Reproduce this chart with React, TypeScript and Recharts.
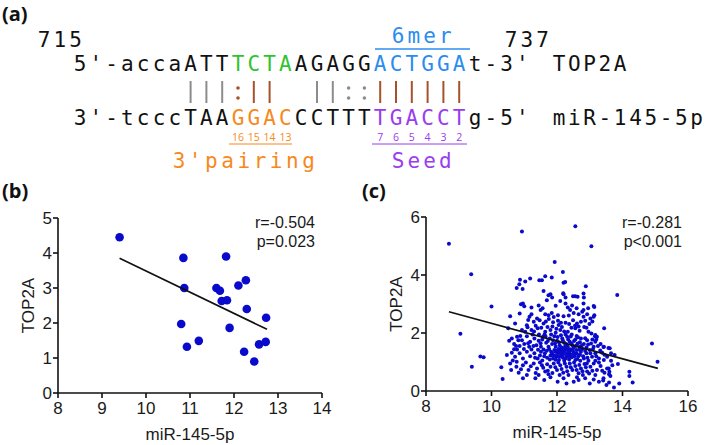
import { Scatter, ScatterChart, XAxis, YAxis } from "recharts";

const SANS = '"Liberation Sans", Arial, sans-serif';
const MONO = '"DejaVu Sans Mono", monospace';
const DOT = "#0a0acc";

// panel (a) sequences
const TOP_SEQ = "5'-accaATTTCTAAGAGGACTGGAt-3'";
const BOT_SEQ = "3'-tcccTAAGGACCCTTTTGACCTg-5'";
const TOP_COLORS: Record<number, string> = {};
const BOT_COLORS: Record<number, string> = {};
[10, 11, 12, 13].forEach((i) => (TOP_COLORS[i] = "#2fc42f"));
[19, 20, 21, 22, 23, 24].forEach((i) => (TOP_COLORS[i] = "#2b8cf0"));
[10, 11, 12, 13].forEach((i) => (BOT_COLORS[i] = "#f7891c"));
[19, 20, 21, 22, 23, 24].forEach((i) => (BOT_COLORS[i] = "#9a3cf0"));

// [position, kind, colour]
const BONDS: [number, string, string][] = [
  [7, "|", "#8c8c8c"],
  [8, "|", "#8c8c8c"],
  [9, "|", "#8c8c8c"],
  [10, ":", "#a5522a"],
  [11, "|", "#a5522a"],
  [12, "|", "#a5522a"],
  [15, "|", "#8c8c8c"],
  [16, "|", "#8c8c8c"],
  [17, ":", "#8c8c8c"],
  [18, ":", "#8c8c8c"],
  [19, "|", "#a5522a"],
  [20, "|", "#a5522a"],
  [21, "|", "#a5522a"],
  [22, "|", "#a5522a"],
  [23, "|", "#a5522a"],
  [24, "|", "#a5522a"],
];
const PAIRING_NUMS = ["16", "15", "14", "13"];
const SEED_NUMS = ["7", "6", "5", "4", "3", "2"];

// panel (b)
const B_MIR = [9.4, 10.85, 10.87, 10.8, 10.93, 11.2, 11.82, 11.6, 11.68, 11.72, 11.84, 11.9, 12.1, 12.27, 12.29, 12.23, 12.46, 12.57, 12.72, 12.73];
const B_TOP2A = [4.45, 3.86, 3.0, 1.97, 1.32, 1.49, 3.9, 3.0, 2.92, 2.63, 2.65, 1.86, 3.07, 3.22, 2.4, 1.18, 0.9, 1.39, 1.46, 2.15];
const B_FIT_X = [9.4, 12.75];
const B_FIT_Y = [3.85, 1.82];
const B_XTICKS = [8, 9, 10, 11, 12, 13, 14];
const B_YTICKS = [0, 1, 2, 3, 4, 5];

// panel (c)
const C_POINTS: [number, number][] = [
  [8.7, 5.08], [10.93, 5.5], [12.56, 5.68], [13.05, 4.99], [9.38, 4.03], [10.0, 2.91], [9.05, 1.97], [9.66, 1.19],
  [9.76, 1.16], [9.4, 0.84], [10.3, 0.82], [10.34, 0.41], [13.84, 3.31], [14.9, 1.64], [15.07, 1.01], [14.21, 0.66],
  [14.21, 0.52], [14.31, 0.29], [13.9, 0.26], [13.74, 0.12], [11.93, 4.45], [12.18, 4.1], [12.88, 3.61], [13.44, 2.16],
  [13.12, 2.93],
  [10.77, 3.55], [10.87, 3.84], [10.95, 3.52], [10.85, 3.68], [11.03, 3.78], [11.18, 3.88], [11.46, 3.82], [11.54, 3.82],
  [11.64, 3.96], [11.84, 3.91], [11.59, 3.45], [11.74, 3.3], [11.8, 3.34], [11.85, 3.22], [11.69, 3.13], [12.2, 3.34],
  [12.26, 3.22], [12.63, 3.25], [12.49, 3.27], [12.82, 3.22], [12.2, 3.73], [12.25, 3.76], [12.81, 3.36], [12.56, 3.27],
  [12.19, 3.37],
  [10.96, 3.02], [11.0, 2.92], [11.22, 2.88], [11.44, 2.95], [11.5, 2.79], [11.64, 2.65], [11.74, 2.61], [11.84, 2.69],
  [11.96, 2.94], [12.1, 3.1], [12.26, 3.02], [12.33, 2.88], [12.46, 2.95], [12.51, 2.69], [12.66, 2.65], [12.77, 2.73],
  [12.92, 2.65], [13.14, 2.9], [13.02, 2.5], [10.86, 2.67], [11.16, 2.56], [11.39, 2.5], [12.03, 2.61], [12.2, 2.58],
  [12.4, 2.79], [12.81, 2.56], [13.14, 2.61], [10.57, 2.58], [12.81, 3.02], [12.81, 2.79], [13.12, 2.56], [10.9, 2.99],
  [10.72, 2.33], [11.08, 2.27], [11.29, 2.39], [11.47, 2.44], [11.59, 2.33], [11.71, 2.21], [11.88, 2.37], [12.03, 2.42],
  [12.15, 2.21], [12.26, 2.35], [12.37, 2.31], [12.49, 2.44], [12.61, 2.33], [12.73, 2.39], [12.86, 2.42], [12.99, 2.31],
  [13.16, 1.89], [13.22, 1.87], [10.93, 2.1], [11.03, 2.04], [11.22, 2.1], [11.41, 2.16], [11.64, 2.04], [11.8, 2.1],
  [11.96, 2.01], [12.1, 2.1], [12.33, 2.04], [12.56, 2.16], [12.69, 2.08], [12.83, 2.21], [12.96, 2.04], [10.51, 2.16],
  [13.05, 1.98], [13.17, 1.93], [11.12, 2.45], [11.75, 2.48], [12.55, 2.25], [11.35, 2.25], [12.05, 2.28],
  [10.62, 1.81], [10.78, 1.87], [10.93, 1.75], [11.08, 1.89], [11.18, 1.7], [11.31, 1.81], [11.44, 1.73], [11.57, 1.87],
  [11.67, 1.66], [11.78, 1.81], [11.85, 1.62], [11.92, 1.89], [12.0, 1.73], [12.08, 1.58], [12.16, 1.81], [12.22, 1.66],
  [12.31, 1.87], [12.39, 1.7], [12.47, 1.58], [12.56, 1.78], [12.63, 1.64], [12.73, 1.81], [12.82, 1.62], [12.92, 1.75],
  [13.04, 1.64], [13.17, 1.7], [13.33, 1.62], [13.61, 1.47], [10.54, 1.73], [10.69, 1.62], [10.86, 1.55], [11.0, 1.62],
  [11.15, 1.53], [11.37, 1.58], [11.51, 1.53], [11.74, 1.53], [11.96, 1.53], [12.14, 1.5], [12.33, 1.53], [12.51, 1.5],
  [12.69, 1.53], [12.9, 1.5], [13.12, 1.53], [13.43, 1.53], [13.2, 1.78], [13.42, 1.52], [13.57, 1.48], [10.82, 1.75],
  [11.25, 1.95], [11.62, 1.95], [12.45, 1.95], [11.5, 1.65], [12.25, 1.55], [12.6, 1.9],
  [10.47, 1.24], [10.62, 1.32], [10.72, 1.18], [10.86, 1.3], [10.96, 1.12], [11.08, 1.35], [11.18, 1.2], [11.31, 1.3],
  [11.41, 1.12], [11.51, 1.35], [11.61, 1.2], [11.69, 1.39], [11.78, 1.09], [11.85, 1.3], [11.92, 1.41], [11.98, 1.18],
  [12.04, 1.32], [12.1, 1.44], [12.14, 1.24], [12.2, 1.35], [12.27, 1.41], [12.29, 1.2], [12.35, 1.3], [12.41, 1.44],
  [12.45, 1.16], [12.51, 1.32], [12.59, 1.41], [12.65, 1.2], [12.73, 1.35], [12.82, 1.12], [12.9, 1.3], [13.0, 1.41],
  [13.07, 1.18], [13.17, 1.3], [13.28, 1.12], [13.38, 1.32], [13.53, 1.18], [13.65, 1.3], [13.76, 1.24], [10.78, 1.43],
  [11.22, 1.43], [11.59, 1.43], [11.88, 1.12], [12.06, 1.07], [12.22, 1.04], [12.37, 1.09], [12.56, 1.07], [12.71, 1.04],
  [12.96, 1.04], [13.17, 1.04], [13.43, 1.07], [13.65, 1.04], [10.69, 1.44], [10.77, 1.01], [12.0, 1.25], [12.12, 1.38],
  [12.3, 1.28], [12.18, 1.15], [12.4, 1.22], [11.95, 1.35], [12.05, 1.45], [12.24, 1.48], [12.36, 1.4], [11.8, 1.22],
  [12.55, 1.28], [12.68, 1.42],
  [10.57, 0.95], [10.76, 0.84], [10.96, 0.89], [11.13, 0.72], [11.29, 0.95], [11.39, 0.78], [11.54, 0.89], [11.64, 0.67],
  [11.8, 0.84], [11.9, 0.95], [12.0, 0.72], [12.1, 0.89], [12.19, 0.63], [12.29, 0.84], [12.39, 0.95], [12.47, 0.72],
  [12.56, 0.86], [12.66, 0.61], [12.73, 0.78], [12.84, 0.93], [12.92, 0.67], [13.02, 0.84], [13.12, 0.95], [13.22, 0.72],
  [13.33, 0.86], [13.45, 0.63], [13.53, 0.78], [13.69, 0.89], [13.86, 0.93], [10.83, 0.63], [11.08, 0.55], [11.44, 0.55],
  [11.74, 0.58], [12.08, 0.55], [12.35, 0.55], [12.79, 0.55], [13.17, 0.55], [13.59, 0.58], [10.96, 0.44], [13.63, 0.52],
  [13.58, 0.78], [13.6, 0.66], [12.91, 0.95],
  [11.34, 0.44], [11.61, 0.38], [11.8, 0.47], [12.02, 0.32], [12.29, 0.26], [12.51, 0.32], [12.66, 0.38], [12.86, 0.44],
  [13.12, 0.4], [13.41, 0.36], [13.59, 0.29], [12.2, 0.44], [12.61, 0.47], [13.0, 0.26], [13.28, 0.32], [13.51, 0.21],
  [13.42, 0.44],
  [11.45, 1.95], [11.55, 1.78], [11.65, 1.88], [11.72, 1.72], [11.82, 1.95], [11.88, 1.75], [11.94, 1.64], [12.02, 1.86],
  [12.06, 1.68], [12.12, 1.92], [12.18, 1.74], [12.26, 1.95], [12.28, 1.62], [12.34, 1.78], [12.42, 1.88], [12.44, 1.64],
  [12.52, 1.72], [12.58, 1.56], [12.64, 1.85], [12.7, 1.68], [12.76, 1.58], [12.86, 1.82], [12.95, 1.6], [13.08, 1.78],
  [13.25, 1.55],
  [11.42, 1.42], [11.48, 1.22], [11.55, 1.05], [11.63, 1.3], [11.7, 1.15], [11.76, 1.45], [11.82, 1.35], [11.9, 1.22],
  [11.96, 1.08], [12.01, 1.4], [12.08, 1.18], [12.11, 1.3], [12.16, 1.45], [12.19, 1.27], [12.23, 1.36], [12.26, 1.12],
  [12.32, 1.46], [12.34, 1.18], [12.38, 1.35], [12.43, 1.26], [12.48, 1.4], [12.53, 1.2], [12.6, 1.3], [12.62, 1.1],
  [12.7, 1.25], [12.77, 1.45], [12.8, 1.2], [12.86, 1.38], [12.93, 1.15], [13.02, 1.3], [13.1, 1.45], [13.2, 1.2],
  [13.32, 1.4], [13.45, 1.25],
  [11.2, 0.85], [11.35, 0.62], [11.48, 0.98], [11.58, 0.8], [11.7, 0.92], [11.72, 0.7], [11.86, 0.62], [11.95, 0.82],
  [12.04, 0.98], [12.14, 0.76], [12.24, 0.95], [12.31, 0.68], [12.42, 0.82], [12.52, 0.98], [12.6, 0.72], [12.68, 0.9],
  [12.78, 0.68], [12.88, 0.82], [12.98, 0.6], [13.08, 0.7], [13.28, 0.98], [13.38, 0.7],
  [11.1, 2.2], [11.3, 2.05], [11.52, 2.18], [11.66, 2.4], [11.86, 2.22], [11.98, 2.15], [12.12, 2.35], [12.22, 2.05],
  [12.44, 2.18], [12.66, 2.22], [12.9, 2.18], [13.08, 2.4], [11.22, 2.65], [11.56, 2.85], [11.9, 2.55], [12.36, 2.6],
  [12.6, 2.85], [12.95, 2.85],
  [10.65, 1.05], [10.75, 1.55], [10.88, 1.9], [10.99, 1.45], [11.05, 0.98], [11.12, 1.65], [11.28, 1.55], [11.33, 1.15],
  [10.6, 0.72], [10.9, 0.75],
];
const C_FIT_X = [8.7, 15.08];
const C_FIT_Y = [2.73, 0.78];
const C_XTICKS = [8, 10, 12, 14, 16];
const C_YTICKS = [0, 2, 4, 6];

const bPoints = B_MIR.map((x, i) => ({ x, y: B_TOP2A[i] }));
const bFit = B_FIT_X.map((x, i) => ({ x, y: B_FIT_Y[i] }));
const cPoints = C_POINTS.map(([x, y]) => ({ x, y }));
const cFit = C_FIT_X.map((x, i) => ({ x, y: C_FIT_Y[i] }));

const CELL = 15.8;
const X0 = 80;
const cx = (i: number) => X0 + i * CELL;

const axisProps = {
  axisLine: { stroke: "#111", strokeWidth: 1.6 },
  tickLine: { stroke: "#111", strokeWidth: 1.6 },
  tickSize: 5,
  tick: { fill: "#1a1a1a", fontSize: 17, fontFamily: SANS },
};

function Seq({ text, y, colors }: { text: string; y: number; colors: Record<number, string> }) {
  return (
    <>
      {text.split("").map((ch, i) => (
        <text key={i} x={cx(i)} y={y} textAnchor="middle" fill={colors[i] ?? "#111"}>
          {ch}
        </text>
      ))}
    </>
  );
}

function Mono({ text, x, y, color, step = CELL }: { text: string; x: number; y: number; color: string; step?: number }) {
  return (
    <>
      {text.split("").map((ch, i) => (
        <text key={i} x={x + i * step} y={y} textAnchor="middle" fill={color}>
          {ch}
        </text>
      ))}
    </>
  );
}

function PanelA() {
  return (
    <svg width={709} height={200} style={{ position: "absolute", left: 0, top: 0 }}>
      <g fontFamily={MONO} fontSize={21}>
        <Mono text="715" x={44} y={47} color="#111" />
        <Mono text="737" x={511} y={47} color="#111" />
        <Mono text="6mer" x={398} y={43} color="#2b8cf0" />
        <Seq text={TOP_SEQ} y={71} colors={TOP_COLORS} />
        <Seq text={BOT_SEQ} y={125} colors={BOT_COLORS} />
        <Mono text="TOP2A" x={559} y={71} color="#111" step={15.3} />
        <Mono text="miR-145-5p" x={559} y={125} color="#111" step={15.3} />
        <Mono text="3'pairing" x={179} y={168} color="#f7891c" step={16.2} />
        <Mono text="Seed" x={398} y={168} color="#9a3cf0" />
      </g>
      <line x1={375} x2={470} y1={49} y2={49} stroke="#2b8cf0" strokeWidth={1.5} />
      {BONDS.map(([i, kind, color]) =>
        kind === "|" ? (
          <line key={i} x1={cx(i)} x2={cx(i)} y1={81} y2={103} stroke={color} strokeWidth={2} />
        ) : (
          <g key={i} fill={color}>
            <circle cx={cx(i)} cy={88} r={1.8} />
            <circle cx={cx(i)} cy={98} r={1.8} />
          </g>
        )
      )}
      <g fontFamily='"Open Sans", sans-serif' fontSize={10.5} textAnchor="middle">
        {PAIRING_NUMS.map((n, k) => (
          <text key={n} x={cx(10 + k)} y={141} fill="#f7891c">
            {n}
          </text>
        ))}
        {SEED_NUMS.map((n, k) => (
          <text key={n} x={cx(19 + k)} y={141} fill="#9a3cf0">
            {n}
          </text>
        ))}
      </g>
      <line x1={229} x2={292} y1={144} y2={144} stroke="#f7891c" strokeWidth={1} />
      <line x1={372} x2={467} y1={144} y2={144} stroke="#9a3cf0" strokeWidth={1} />
    </svg>
  );
}

export default function App() {
  return (
    <div style={{ position: "fixed", left: 0, top: 0, width: 709, height: 445, background: "#fff", overflow: "hidden" }}>
      <PanelA />

      <div style={{ position: "absolute", left: 0, top: 200 }}>
        <ScatterChart width={340} height={245} margin={{ top: 18, right: 18, bottom: 0, left: 0 }}>
          <XAxis
            {...axisProps}
            type="number"
            dataKey="x"
            domain={[8, 14]}
            ticks={B_XTICKS}
            height={52}
            tickMargin={4}
            label={{ value: "miR-145-5p", position: "insideBottom", offset: 5, fill: "#1a1a1a", fontSize: 17, fontFamily: SANS }}
          />
          <YAxis
            {...axisProps}
            type="number"
            dataKey="y"
            domain={[0, 5]}
            ticks={B_YTICKS}
            width={58}
            tickMargin={1}
            label={{ value: "TOP2A", angle: -90, position: "center", fill: "#1a1a1a", fontSize: 17, fontFamily: SANS, dx: -1 }}
          />
          <Scatter
            data={bPoints}
            isAnimationActive={false}
            shape={(p: any) => <circle cx={p.cx} cy={p.cy} r={4.3} fill={DOT} />}
          />
          <Scatter
            data={bFit}
            isAnimationActive={false}
            line={{ stroke: "#111", strokeWidth: 1.6 }}
            shape={() => <g />}
          />
        </ScatterChart>
      </div>

      <div style={{ position: "absolute", left: 340, top: 200 }}>
        <ScatterChart width={369} height={245} margin={{ top: 17, right: 21, bottom: 0, left: 26 }}>
          <XAxis
            {...axisProps}
            type="number"
            dataKey="x"
            domain={[8, 16]}
            ticks={C_XTICKS}
            height={54}
            tickMargin={4}
            label={{ value: "miR-145-5p", position: "insideBottom", offset: 7, fill: "#1a1a1a", fontSize: 17, fontFamily: SANS }}
          />
          <YAxis
            {...axisProps}
            type="number"
            dataKey="y"
            domain={[0, 6]}
            ticks={C_YTICKS}
            width={60}
            tickMargin={1}
            label={{ value: "TOP2A", angle: -90, position: "center", fill: "#1a1a1a", fontSize: 17, fontFamily: SANS }}
          />
          <Scatter
            data={cPoints}
            isAnimationActive={false}
            shape={(p: any) => <circle cx={p.cx} cy={p.cy} r={2} fill={DOT} />}
          />
          <Scatter
            data={cFit}
            isAnimationActive={false}
            line={{ stroke: "#111", strokeWidth: 1.6 }}
            shape={() => <g />}
          />
        </ScatterChart>
      </div>

      <svg width={709} height={445} style={{ position: "absolute", left: 0, top: 0, pointerEvents: "none" }}>
        <g fontFamily='"Open Sans", sans-serif' fontWeight={700} fontSize={20} fill="#111">
          <text x={2} y={21}>(a)</text>
          <text x={2} y={198}>(b)</text>
          <text x={362} y={198}>(c)</text>
        </g>
        <g fontFamily={SANS} fontSize={16} fill="#1a1a1a" textAnchor="end">
          <text x={315} y={228}>r=-0.504</text>
          <text x={315} y={247}>p=0.023</text>
          <text x={682} y={228}>r=-0.281</text>
          <text x={682} y={247}>p&lt;0.001</text>
        </g>
      </svg>
    </div>
  );
}
